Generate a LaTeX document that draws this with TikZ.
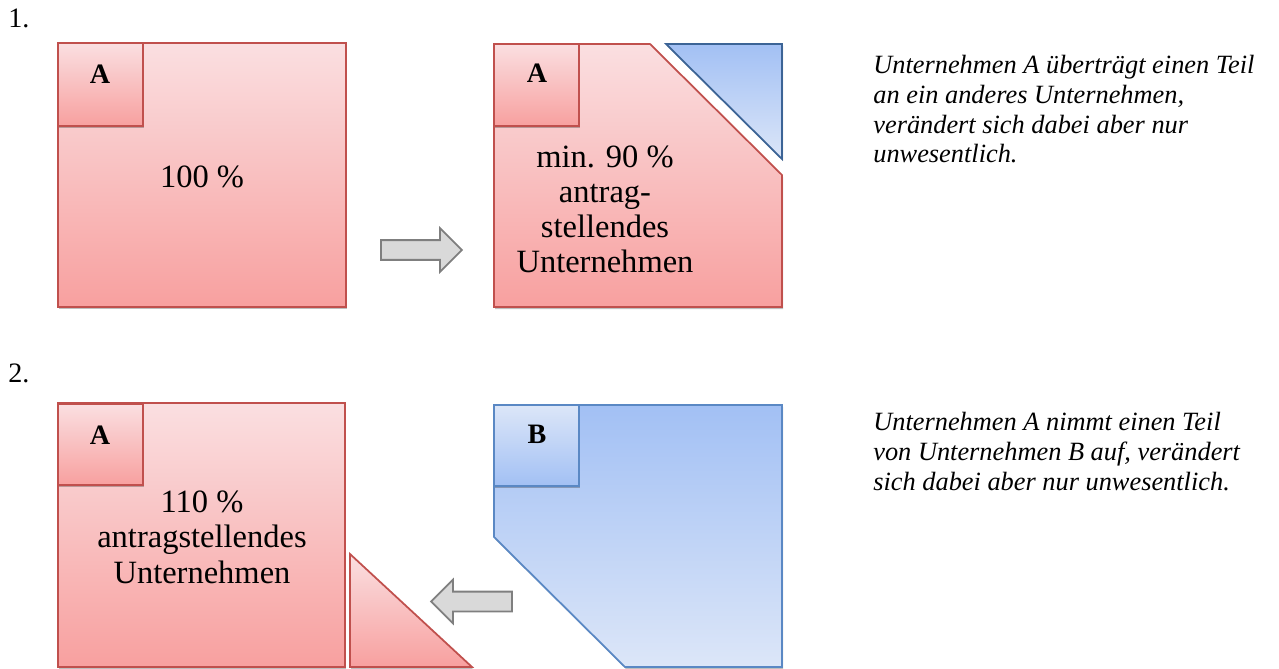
\documentclass[tikz,border=0pt]{standalone}
\usepackage{fontspec}
\setmainfont{Liberation Serif}
\usetikzlibrary{shapes.arrows, shadows}

\definecolor{redtop}{HTML}{FADFE1}
\definecolor{redbot}{HTML}{F8A09F}
\definecolor{redline}{HTML}{C0504D}
\definecolor{bluetop}{HTML}{A2C0F4}
\definecolor{bluebot}{HTML}{DCE6F8}
\definecolor{blueline}{HTML}{5A88C4}
\definecolor{bluedark}{HTML}{3C6496}
\definecolor{arrowfill}{HTML}{D9D9D9}
\definecolor{arrowline}{HTML}{7F7F7F}

\tikzset{
  softshadow/.style={drop shadow={shadow xshift=0.6pt, shadow yshift=-1.2pt, opacity=0.25, fill=black}},
  redpart/.style={draw=redline, line width=1pt, top color=redtop, bottom color=redbot, softshadow},
  bluepart/.style={draw=blueline, line width=1pt, top color=bluetop, bottom color=bluebot, softshadow},
  redtag/.style={draw=redline, line width=1pt, top color=redtop, bottom color=redbot, softshadow},
  bluetag/.style={draw=blueline, line width=1pt, top color=bluebot, bottom color=bluetop, softshadow},
  blockarrow/.style={single arrow, draw=arrowline, fill=arrowfill, line width=1pt,
    minimum height=1.62cm, inner sep=0.18cm, single arrow head extend=0.24cm},
  letter/.style={font=\fontsize{16}{18}\selectfont\bfseries, anchor=base, inner sep=0},
  boxtext/.style={font=\fontsize{18.5}{20}\selectfont, align=center, anchor=base, inner sep=0},
  note/.style={font=\fontsize{15}{16.9}\selectfont\itshape, align=left, anchor=base west, inner sep=0},
  steplabel/.style={font=\fontsize{16}{18}\selectfont, anchor=base west, inner sep=0}
}

\begin{document}
\begin{tikzpicture}[x=0.02cm, y=-0.02cm]
  \useasboundingbox (0,0) rectangle (1279,669);

  % Abgabe eines Teils
  \begin{scope}[shift={(0,0)}]
    \node[steplabel] (step1) at (8,28) {1.};
    \draw[redpart] (58,43) rectangle (346,307);
    \draw[redtag] (58,43) rectangle (143,126);
    \node[letter] (tagA1) at (100,84) {A};
    \node[boxtext] (share1) at (202,188) {100 \%};

    \node[blockarrow] (arrow1) at (416.5,250) {};

    \draw[redpart] (494,44) -- (650,44) -- (782,175) -- (782,307) -- (494,307) -- cycle;
    \draw[draw=bluedark, line width=1pt, top color=bluetop, bottom color=bluebot, softshadow]
      (666,44) -- (782,44) -- (782,159) -- cycle;
    \draw[redtag] (494,44) rectangle (579,126);
    \node[letter] (tagA2) at (537,83) {A};
    \node[boxtext] (share2) at (605,273) {min. 90 \%\\antrag-\\stellendes\\Unternehmen};

    \node[note] (note1) at (873,163) {Unternehmen A überträgt einen Teil\\an ein anderes Unternehmen,\\verändert sich dabei aber nur\\unwesentlich.};
  \end{scope}

  % Aufnahme eines Teils
  \begin{scope}[shift={(0,0)}]
    \node[steplabel] (step2) at (8,382) {2.};
    \draw[redpart] (58,403) rectangle (345,667);
    \draw[redtag] (58,404) rectangle (143,485);
    \node[letter] (tagA3) at (100,444) {A};
    \node[boxtext] (share3) at (202,583) {110 \%\\antragstellendes\\Unternehmen};
    \draw[redpart] (350,554) -- (472,667) -- (350,667) -- cycle;

    \node[blockarrow, shape border rotate=180] (arrow2) at (476.5,601.5) {};

    \draw[bluepart] (494,405) -- (782,405) -- (782,667) -- (625,667) -- (494,537) -- cycle;
    \draw[bluetag] (494,405) rectangle (579,486);
    \node[letter] (tagB) at (537,443) {B};

    \node[note] (note2) at (873,490) {Unternehmen A nimmt einen Teil\\von Unternehmen B auf, verändert\\sich dabei aber nur unwesentlich.};
  \end{scope}
\end{tikzpicture}
\end{document}
